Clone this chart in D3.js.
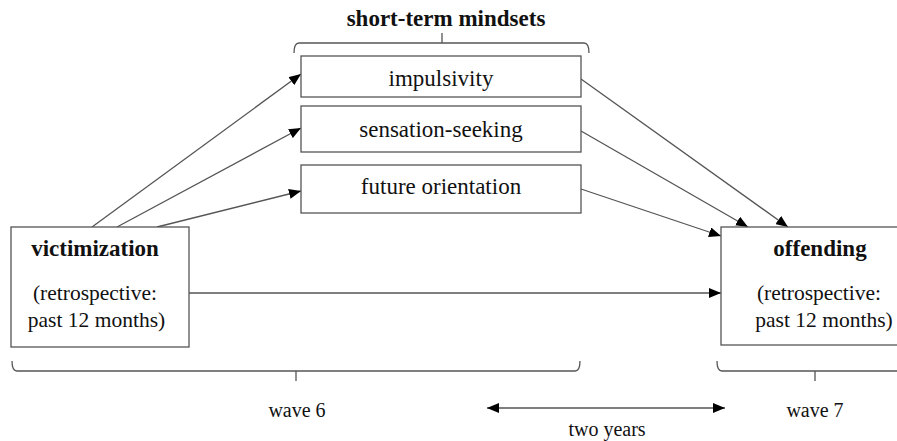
<!DOCTYPE html>
<html><head><meta charset="utf-8">
<script src="https://cdn.jsdelivr.net/npm/d3@7"></script>
<style>body{margin:0;background:#fff}</style>
</head><body><div id="chart"></div>
<script>
// ---- data ----
const mediators = ["impulsivity", "sensation-seeking", "future orientation"];
const groupTitle = "short-term mindsets";
const predictor = {title: "victimization", sub: ["(retrospective:", "past 12 months)"]};
const outcome = {title: "offending", sub: ["(retrospective:", "past 12 months)"]};
const waves = ["wave 6", "wave 7"];
const gapLabel = "two years";

// ---- layout ----
const W = 897, H = 441;
const FONT = "'Liberation Serif', 'Times New Roman', serif";
const svg = d3.select("#chart").append("svg").attr("width", W).attr("height", H);
const defs = svg.append("defs");
defs.append("marker").attr("id", "ah").attr("viewBox", "0 0 12 10").attr("refX", 12).attr("refY", 5)
  .attr("markerWidth", 12).attr("markerHeight", 10).attr("markerUnits", "userSpaceOnUse").attr("orient", "auto-start-reverse")
  .append("path").attr("d", "M0,0 L12,5 L0,10 Z").attr("fill", "#000");

const stroke = "#555", sw = 1.3;
const midX0 = 301, midX1 = 581;
const midY = d3.scaleOrdinal().domain(mediators).range([[56, 97], [106, 152], [165, 213]]);
const midBase = d3.scaleOrdinal().domain(mediators).range([86, 137, 194]);
const vicBox = {x0: 11, x1: 189, y0: 227, y1: 347};
const offBox = {x0: 721, x1: 905, y0: 227, y1: 345};

const txt = (x, y, s, size, bold) => svg.append("text").attr("x", x).attr("y", y).attr("text-anchor", "middle")
  .attr("fill", "#111").style("font-family", FONT).style("font-size", size + "px")
  .style("font-weight", bold ? "bold" : "normal").text(s);

// arrows first
const line = (x1, y1, x2, y2, both) => {
  const l = svg.append("line").attr("x1", x1).attr("y1", y1).attr("x2", x2).attr("y2", y2)
    .attr("stroke", stroke).attr("stroke-width", sw).attr("marker-end", "url(#ah)");
  if (both) l.attr("marker-start", "url(#ah)");
};
const inStartX = [92, 117, 157], inEndY = [74, 128, 191];
const outStartY = [79, 131, 189], outEnd = [[788, 227], [748, 227], [721, 236]];
mediators.forEach((m, i) => {
  line(inStartX[i], vicBox.y0, midX0, inEndY[i]);
  line(midX1, outStartY[i], outEnd[i][0], outEnd[i][1]);
});
line(vicBox.x1, 293, offBox.x0, 293);

// mediator boxes
mediators.forEach(m => {
  const [y0, y1] = midY(m);
  svg.append("rect").attr("x", midX0).attr("y", y0).attr("width", midX1 - midX0).attr("height", y1 - y0)
    .attr("fill", "#fff").attr("stroke", stroke).attr("stroke-width", sw);
  txt(441, midBase(m), m, 23);
});

// predictor/outcome boxes
function bigBox(b, d, cx, subX) {
  svg.append("rect").attr("x", b.x0).attr("y", b.y0).attr("width", b.x1 - b.x0).attr("height", b.y1 - b.y0)
    .attr("fill", "#fff").attr("stroke", stroke).attr("stroke-width", sw);
  txt(cx, b.y0 + 29, d.title, 23, true);
  d.sub.forEach((s, i) => txt(subX[i], b.y0 + 73 + i * 27, s, 21.5));
}
bigBox(vicBox, predictor, 95, [95, 96.5]);
bigBox(offBox, outcome, 820, [819, 824]);

// braces
function brace(x0, x1, y, tickX, dir) { // dir 1 = tick points down
  const ends = 10 * -dir;
  const p = d3.path();
  p.moveTo(x0, y + ends); p.quadraticCurveTo(x0, y, x0 + 5, y); p.lineTo(x1 - 5, y);
  p.quadraticCurveTo(x1, y, x1, y + ends);
  p.moveTo(tickX, y); p.lineTo(tickX, y + 10 * dir);
  svg.append("path").attr("d", p.toString()).attr("fill", "none").attr("stroke", stroke).attr("stroke-width", sw);
}
brace(294, 589, 43, 442, -1);
brace(12, 580, 371, 296, 1);
brace(717, 920, 371, 815, 1);

txt(446, 26, groupTitle, 23, true);
txt(297, 417, waves[0], 20);
txt(815, 417, waves[1], 20);
line(487, 408, 725, 408, true);
txt(607, 436, gapLabel, 20);
</script></body></html>
